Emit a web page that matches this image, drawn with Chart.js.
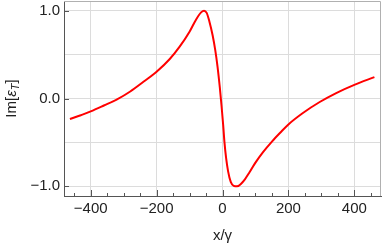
<!DOCTYPE html>
<html>
<head>
<meta charset="utf-8">
<script src="https://cdn.jsdelivr.net/npm/chart.js@4.4.1/dist/chart.umd.min.js"></script>
<style>
html,body{margin:0;padding:0;background:#fff;}
#wrap{width:382px;height:247px;position:relative;}
</style>
</head>
<body>
<div id="wrap"><canvas id="c" width="382" height="247"></canvas></div>
<script>
// Data
const xValues = [-463,-430,-400,-360,-320,-280,-240,-200,-160,-130,-100,-80,-65,-56,-48,-40,-30,-22,-15,-8,-3,2,6,11,17,25,34,44,55,68,82,100,123,150,175,200,244,295,345,400,461];
const yValues = [-0.234,-0.19,-0.147,-0.08,-0.01,0.08,0.19,0.305,0.45,0.59,0.76,0.9,0.98,1.0,0.975,0.88,0.72,0.55,0.36,0.12,-0.08,-0.3,-0.5,-0.68,-0.83,-0.95,-0.995,-1.0,-0.975,-0.92,-0.84,-0.73,-0.61,-0.49,-0.39,-0.295,-0.165,-0.04,0.062,0.155,0.243];
const xTicks = [-450,-400,-350,-300,-250,-200,-150,-100,-50,0,50,100,150,200,250,300,350,400,450];
const xLabelTicks = [-400,-200,0,200,400];
const yTicks = [-1,-0.5,0,0.5,1];
const yLabelTicks = [-1,0,1];
const xTitle = 'x/γ';

const FONT = "'Liberation Sans', Arial, sans-serif";
const fmtMinus = s => s.replace('-', '\u2212');

const points = xValues.map((x, i) => ({x: x, y: yValues[i]}));

const frameAndTicks = {
  id: 'frameAndTicks',
  afterDraw(chart) {
    const ctx = chart.ctx, a = chart.chartArea;
    const xs = chart.scales.x, ys = chart.scales.y;
    ctx.save();
    ctx.strokeStyle = '#b0b0b0';
    ctx.lineWidth = 1;
    ctx.beginPath();
    ctx.moveTo(a.left, a.top + 0.5); ctx.lineTo(a.right - 0.5, a.top + 0.5); ctx.lineTo(a.right - 0.5, a.bottom);
    ctx.stroke();
    ctx.strokeStyle = '#555';
    ctx.beginPath();
    xTicks.forEach(v => {
      const px = Math.round(xs.getPixelForValue(v)) + 0.5;
      const len = xLabelTicks.includes(v) ? 6 : 3;
      ctx.moveTo(px, a.bottom); ctx.lineTo(px, a.bottom - len);
    });
    yLabelTicks.forEach(v => {
      const py = Math.round(ys.getPixelForValue(v)) + 0.5;
      ctx.moveTo(a.left, py); ctx.lineTo(a.left + 5, py);
    });
    ctx.stroke();
    const fs = 15;
    const parts = [
      {t: 'Im[', f: `${fs}px ${FONT}`, dy: 0},
      {t: 'ε', f: `italic ${fs}px ${FONT}`, dy: 0},
      {t: 'T', f: `italic ${Math.round(fs*0.7)}px ${FONT}`, dy: 3},
      {t: ']', f: `${fs}px ${FONT}`, dy: 0}
    ];
    let total = 0;
    parts.forEach(p => { ctx.font = p.f; p.w = ctx.measureText(p.t).width; total += p.w; });
    ctx.translate(16, (a.top + a.bottom) / 2);
    ctx.rotate(-Math.PI / 2);
    ctx.fillStyle = '#222';
    ctx.textBaseline = 'alphabetic';
    ctx.textAlign = 'left';
    let cx = -total / 2;
    parts.forEach(p => { ctx.font = p.f; ctx.fillText(p.t, cx, p.dy); cx += p.w; });
    ctx.restore();
  }
};

new Chart(document.getElementById('c'), {
  type: 'scatter',
  data: {
    datasets: [{
      data: points,
      showLine: true,
      borderColor: '#ff0000',
      borderWidth: 2,
      pointRadius: 0,
      cubicInterpolationMode: 'monotone',
      fill: false
    }]
  },
  options: {
    responsive: false,
    animation: false,
    devicePixelRatio: 1,
    layout: {padding: {top: 1, right: 1, left: 0, bottom: 0}},
    plugins: {legend: {display: false}, tooltip: {enabled: false}},
    scales: {
      x: {
        type: 'linear',
        min: -481, max: 481,
        afterBuildTicks: s => { s.ticks = xTicks.map(v => ({value: v})); },
        afterFit: s => { s.height = 51; s.paddingLeft = 0; s.paddingRight = 0; },
        grid: {
          drawTicks: false,
          color: ctx => (ctx.tick && xLabelTicks.includes(ctx.tick.value)) ? '#dcdcdc' : 'rgba(0,0,0,0)',
          lineWidth: 1
        },
        border: {display: true, color: '#555', width: 1},
        ticks: {
          autoSkip: false,
          maxRotation: 0,
          padding: 4,
          color: '#222',
          font: {family: FONT, size: 15},
          callback: v => xLabelTicks.includes(v) ? fmtMinus(String(v)) : ''
        },
        title: {
          display: true,
          text: xTitle,
          color: '#222',
          font: {family: FONT, size: 15},
          padding: {top: 0, bottom: 2}
        }
      },
      y: {
        type: 'linear',
        min: -1.11, max: 1.11,
        afterBuildTicks: s => { s.ticks = yTicks.map(v => ({value: v})); },
        afterFit: s => { s.width = 64; s.paddingTop = 0; s.paddingBottom = 0; },
        grid: {drawTicks: false, color: '#dcdcdc', lineWidth: 1},
        border: {display: true, color: '#555', width: 1},
        ticks: {
          autoSkip: false,
          padding: 4,
          color: '#222',
          font: {family: FONT, size: 15},
          callback: v => yLabelTicks.includes(v) ? fmtMinus(v.toFixed(1)) : ''
        }
      }
    }
  },
  plugins: [frameAndTicks]
});
</script>
</body>
</html>
